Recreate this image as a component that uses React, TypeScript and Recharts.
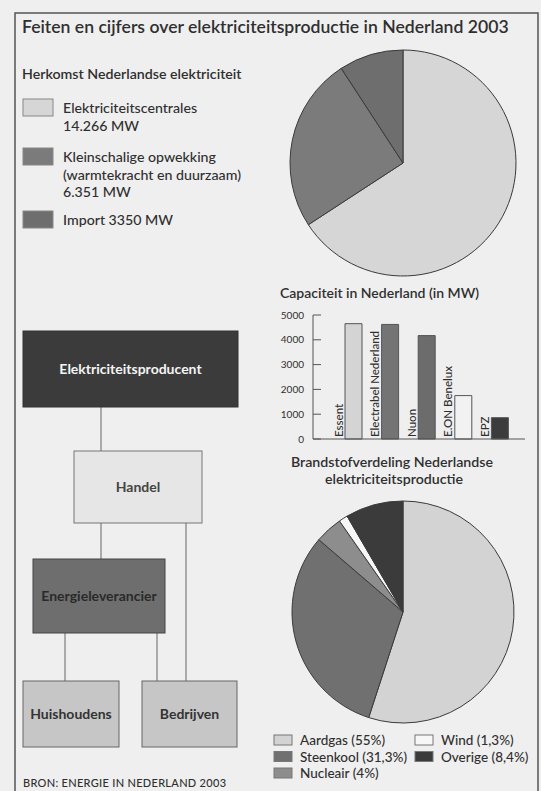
import { Bar, BarChart, Cell, LabelList, Pie, PieChart, XAxis, YAxis } from "recharts";

const FONT = "Lato, 'Open Sans', sans-serif";
const INK = "#2f2f2f";
const PAPER = "#efefef";

// Herkomst Nederlandse elektriciteit (bovenste taart) — aandelen zoals getekend
const originNames = ["Elektriciteitscentrales", "Kleinschalige opwekking", "Import"];
const originShare = [65.8, 25, 9.2];
const originColors = ["#d6d6d6", "#7b7b7b", "#6e6e6e"];
const originLegend = [
  ["Elektriciteitscentrales", "14.266 MW"],
  ["Kleinschalige opwekking", "(warmtekracht en duurzaam)", "6.351 MW"],
  ["Import 3350 MW"],
];

// Capaciteit in Nederland (in MW)
const companies = ["Essent", "Electrabel Nederland", "Nuon", "E.ON Benelux", "EPZ"];
const capacityMW = [4650, 4620, 4170, 1750, 860];
const companyColors = ["#d4d4d4", "#747474", "#6c6c6c", "#f2f2f2", "#3c3c3c"];
const capacityTicks = [0, 1000, 2000, 3000, 4000, 5000];

// Brandstofverdeling
const fuelNames = ["Aardgas", "Steenkool", "Nucleair", "Wind", "Overige"];
const fuelPct = [55, 31.3, 4, 1.3, 8.4];
const fuelLabels = ["Aardgas (55%)", "Steenkool (31,3%)", "Nucleair (4%)", "Wind (1,3%)", "Overige (8,4%)"];
const fuelColors = ["#d3d3d3", "#707070", "#8d8d8d", "#f7f7f7", "#3b3b3b"];

const originData = originNames.map((name, i) => ({ name, value: originShare[i] }));
const capacityData = companies.map((name, i) => ({ name, mw: capacityMW[i] }));
const fuelData = fuelNames.map((name, i) => ({ name, value: fuelPct[i] }));

// legend slot per brandstof: kolom, rij
const fuelLegendSlot = [
  [0, 0],
  [0, 1],
  [0, 2],
  [1, 0],
  [1, 1],
];

function CapacityTick(props: any) {
  const { x, y, payload } = props;
  return (
    <g>
      <text x={x - 9} y={y + 3.5} textAnchor="end" fontSize={10} fontFamily={FONT} fill={INK}>
        {payload.value}
      </text>
      <line x1={x} x2={x + 8} y1={y} y2={y} stroke="#555" strokeWidth={1} />
    </g>
  );
}

function CompanyLabel(props: any) {
  const { x, y, height, value } = props;
  const tx = x - 2.5;
  const ty = y + height - 2;
  return (
    <text
      x={tx}
      y={ty}
      transform={`rotate(-90, ${tx}, ${ty})`}
      fontSize={11.5}
      fontWeight={500}
      fontFamily={FONT}
      fill={INK}
    >
      {value}
    </text>
  );
}

function Box({ x, y, w, h, fill, stroke, label, color }: any) {
  return (
    <g>
      <rect x={x} y={y} width={w} height={h} fill={fill} stroke={stroke} strokeWidth={1} />
      <text
        x={x + w / 2}
        y={y + h / 2 + 5}
        textAnchor="middle"
        fontSize={14}
        fontWeight={700}
        fontFamily={FONT}
        fill={color}
      >
        {label}
      </text>
    </g>
  );
}

export default function App() {
  return (
    <div
      style={{
        position: "absolute",
        left: 0,
        top: 0,
        width: 541,
        height: 791,
        overflow: "hidden",
        background: PAPER,
        fontFamily: FONT,
      }}
    >
      <svg width={541} height={791} style={{ position: "absolute", left: 0, top: 0 }}>
        <rect x={15} y={13} width={523} height={800} fill="none" stroke="#555" strokeWidth={1.5} />
        <text x={22} y={33} fontSize={17.6} fontWeight={600} fontFamily={FONT} fill={INK}>
          Feiten en cijfers over elektriciteitsproductie in Nederland 2003
        </text>

        {/* legenda herkomst */}
        <text x={22} y={79} fontSize={14.2} fontWeight={600} fontFamily={FONT} fill={INK}>
          Herkomst Nederlandse elektriciteit
        </text>
        {originLegend.map((lines, i) => {
          const top = [99, 148, 211][i];
          return (
            <g key={originNames[i]}>
              <rect x={23} y={top} width={30} height={17} fill={originColors[i]} stroke="#888" strokeWidth={1} />
              {lines.map((line, j) => (
                <text
                  key={line}
                  x={63}
                  y={top + 14 + j * 17.5}
                  fontSize={14.2}
                  fontWeight={500}
                  fontFamily={FONT}
                  fill={INK}
                >
                  {line}
                </text>
              ))}
            </g>
          );
        })}

        {/* schema */}
        <g stroke="#666" strokeWidth={1}>
          <line x1={101} x2={101} y1={407} y2={451} />
          <line x1={101} x2={101} y1={523} y2={559} />
          <line x1={186} x2={186} y1={523} y2={681} />
          <line x1={65} x2={65} y1={633} y2={681} />
          <line x1={157} x2={157} y1={633} y2={681} />
        </g>
        <Box x={23} y={331} w={215} h={76} fill="#3b3b3b" stroke="#333" label="Elektriciteitsproducent" color="#f4f4f4" />
        <Box x={74} y={451} w={128} h={72} fill="#e6e6e6" stroke="#777" label="Handel" color="#444" />
        <Box x={33} y={559} w={132} h={74} fill="#6e6e6e" stroke="#444" label="Energieleverancier" color="#2a2a2a" />
        <Box x={23} y={681} w={96} h={66} fill="#c6c6c6" stroke="#666" label="Huishoudens" color="#333" />
        <Box x={142} y={681} w={95} h={66} fill="#c6c6c6" stroke="#666" label="Bedrijven" color="#333" />

        <text x={23} y={787} fontSize={11} fontWeight={500} fontFamily={FONT} fill={INK} letterSpacing={0.3}>
          BRON: ENERGIE IN NEDERLAND 2003
        </text>

        {/* titels rechts */}
        <text x={280} y={298} fontSize={14} fontWeight={600} fontFamily={FONT} fill={INK}>
          Capaciteit in Nederland (in MW)
        </text>
        <text x={392} y={467} textAnchor="middle" fontSize={14.2} fontWeight={600} fontFamily={FONT} fill={INK}>
          Brandstofverdeling Nederlandse
        </text>
        <text x={394} y={484} textAnchor="middle" fontSize={14.2} fontWeight={600} fontFamily={FONT} fill={INK}>
          elektriciteitsproductie
        </text>

        {/* legenda brandstof */}
        {fuelLabels.map((label, i) => {
          const [col, row] = fuelLegendSlot[i];
          const sx = col === 0 ? 274 : 415;
          const sy = 735 + row * 16.5;
          return (
            <g key={label}>
              <rect x={sx} y={sy} width={18} height={10} fill={fuelColors[i]} stroke="#777" strokeWidth={1} />
              <text x={sx + 26} y={sy + 10} fontSize={13.5} fontWeight={500} fontFamily={FONT} fill={INK}>
                {label}
              </text>
            </g>
          );
        })}
      </svg>

      <div style={{ position: "absolute", left: 278, top: 38 }}>
        <PieChart width={240} height={240}>
          <Pie
            data={originData}
            dataKey="value"
            cx={120}
            cy={120}
            outerRadius={113}
            startAngle={90}
            endAngle={-270}
            stroke="#3a3a3a"
            strokeWidth={1}
            isAnimationActive={false}
          >
            {originData.map((d, i) => (
              <Cell key={d.name} fill={originColors[i]} />
            ))}
          </Pie>
        </PieChart>
      </div>

      <div style={{ position: "absolute", left: 270, top: 300 }}>
        <BarChart width={270} height={150} data={capacityData} margin={{ top: 15, right: 15, bottom: 10, left: 0 }}>
          <XAxis
            dataKey="name"
            tick={false}
            tickLine={false}
            height={1}
            padding={{ left: 22, right: 7 }}
            axisLine={{ stroke: "#555" }}
          />
          <YAxis
            width={43}
            domain={[0, 5000]}
            ticks={capacityTicks}
            tickLine={false}
            tickSize={0}
            tickMargin={0}
            tick={<CapacityTick />}
            axisLine={{ stroke: "#555" }}
          />
          <Bar dataKey="mw" barSize={17} stroke="#555" strokeWidth={1} isAnimationActive={false}>
            {capacityData.map((d, i) => (
              <Cell key={d.name} fill={companyColors[i]} />
            ))}
            <LabelList dataKey="name" content={<CompanyLabel />} />
          </Bar>
        </BarChart>
      </div>

      <div style={{ position: "absolute", left: 278, top: 487 }}>
        <PieChart width={240} height={240}>
          <Pie
            data={fuelData}
            dataKey="value"
            cx={120}
            cy={120}
            outerRadius={111}
            startAngle={90}
            endAngle={-270}
            stroke="#3a3a3a"
            strokeWidth={1}
            isAnimationActive={false}
          >
            {fuelData.map((d, i) => (
              <Cell key={d.name} fill={fuelColors[i]} />
            ))}
          </Pie>
        </PieChart>
      </div>
    </div>
  );
}
